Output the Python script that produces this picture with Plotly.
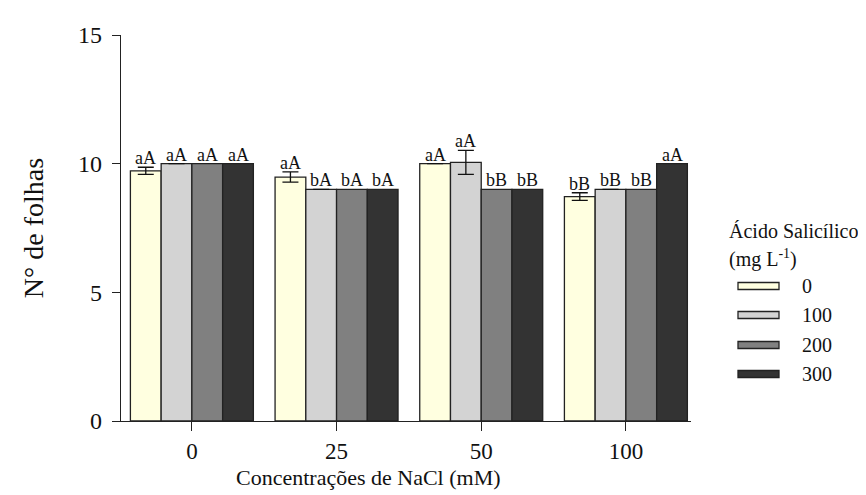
import plotly.graph_objects as go

categories = ["0", "25", "50", "100"]
series_names = ["0", "100", "200", "300"]
values = [
    [9.72, 9.48, 10.0, 8.72],   # 0 mg/L
    [10.0, 9.0, 10.05, 9.0],    # 100
    [10.0, 9.0, 9.0, 9.0],      # 200
    [10.0, 9.0, 9.0, 10.0],     # 300
]
errors = [
    [0.14, 0.2, 0.0, 0.15],
    [0.0, 0.0, 0.47, 0.0],
    [0.0, 0.0, 0.0, 0.0],
    [0.0, 0.0, 0.0, 0.0],
]
letters = [
    ["aA", "aA", "aA", "bB"],
    ["aA", "bA", "aA", "bB"],
    ["aA", "bA", "bB", "bB"],
    ["aA", "bA", "bB", "aA"],
]
colors = ["#FFFFE0", "#D3D3D3", "#808080", "#333333"]

FONT = "Liberation Serif, Times New Roman, serif"
group_width = 0.85
w = group_width / len(series_names)

fig = go.Figure()
annotations = []
for j, name in enumerate(series_names):
    xs = [i + (j - (len(series_names) - 1) / 2) * w for i in range(len(categories))]
    has_err = any(e > 0 for e in errors[j])
    fig.add_trace(go.Bar(
        x=xs, y=values[j], width=w, name=name,
        marker=dict(color=colors[j], line=dict(color="#222222", width=1.3)),
        error_y=dict(type="data", array=[e if e > 0 else None for e in errors[j]],
                     visible=has_err, color="#111111", thickness=1.3, width=8),
        showlegend=False,
    ))
    for i, x in enumerate(xs):
        annotations.append(dict(
            x=x, y=values[j][i] + errors[j][i], xref="x", yref="y",
            text=letters[j][i], showarrow=False, yanchor="bottom", yshift=-3,
            font=dict(family=FONT, size=18, color="#111111"),
        ))

# manual legend
leg_x0, leg_x1 = 730, 771
row_y = [278, 307, 337, 366]
shapes = []
W, H = 866, 495
L, R, T, B = 113, 183, 27, 82
pw, ph = W - L - R, H - T - B
def px(xp):
    return (xp - L) / pw
def py(yp):
    return (H - B - yp) / ph
for j, name in enumerate(series_names):
    shapes.append(dict(type="rect", xref="paper", yref="paper",
                       x0=px(leg_x0), x1=px(leg_x1), y0=py(row_y[j] + 3.5), y1=py(row_y[j] - 3.5),
                       fillcolor=colors[j], line=dict(color="#222222", width=1.3)))
    annotations.append(dict(x=px(792), y=py(row_y[j]), xref="paper", yref="paper",
                            text=name, showarrow=False, xanchor="left", yanchor="middle",
                            font=dict(family=FONT, size=20, color="#111111")))
annotations.append(dict(x=px(719), y=py(223), xref="paper", yref="paper",
                        text="Ácido Salicílico", showarrow=False, xanchor="left", yanchor="middle",
                        font=dict(family=FONT, size=20, color="#111111")))
annotations.append(dict(x=px(719), y=py(250), xref="paper", yref="paper",
                        text="(mg L<sup>-1</sup>)", showarrow=False, xanchor="left", yanchor="middle",
                        font=dict(family=FONT, size=20, color="#111111")))
# x-axis title (offset left of plot centre, as in the reference)
annotations.append(dict(x=px(360), y=py(469), xref="paper", yref="paper",
                        text="Concentrações de NaCl (mM)", showarrow=False,
                        xanchor="center", yanchor="middle",
                        font=dict(family=FONT, size=22, color="#111111")))

fig.update_layout(
    width=W, height=H,
    margin=dict(l=L, r=R, t=T, b=B),
    plot_bgcolor="white", paper_bgcolor="white",
    font=dict(family=FONT, color="#111111"),
    barmode="overlay",
    annotations=annotations, shapes=shapes,
    xaxis=dict(
        range=[-0.49, 3.45], tickvals=list(range(len(categories))), ticktext=categories,
        showline=True, linecolor="#222222", linewidth=1.3,
        ticks="outside", ticklen=9, tickcolor="#222222", tickwidth=1.3,
        showgrid=False, zeroline=False,
        tickfont=dict(family=FONT, size=23),
    ),
    yaxis=dict(
        range=[0, 15], tickvals=[0, 5, 10, 15],
        showline=True, linecolor="#222222", linewidth=1.3,
        ticks="outside", ticklen=8, tickcolor="#222222", tickwidth=1.3,
        showgrid=False, zeroline=False, ticklabelstandoff=5,
        tickfont=dict(family=FONT, size=24),
        title=dict(text="N° de folhas", font=dict(family=FONT, size=28), standoff=26),
    ),
)

fig.write_html("out.html")
